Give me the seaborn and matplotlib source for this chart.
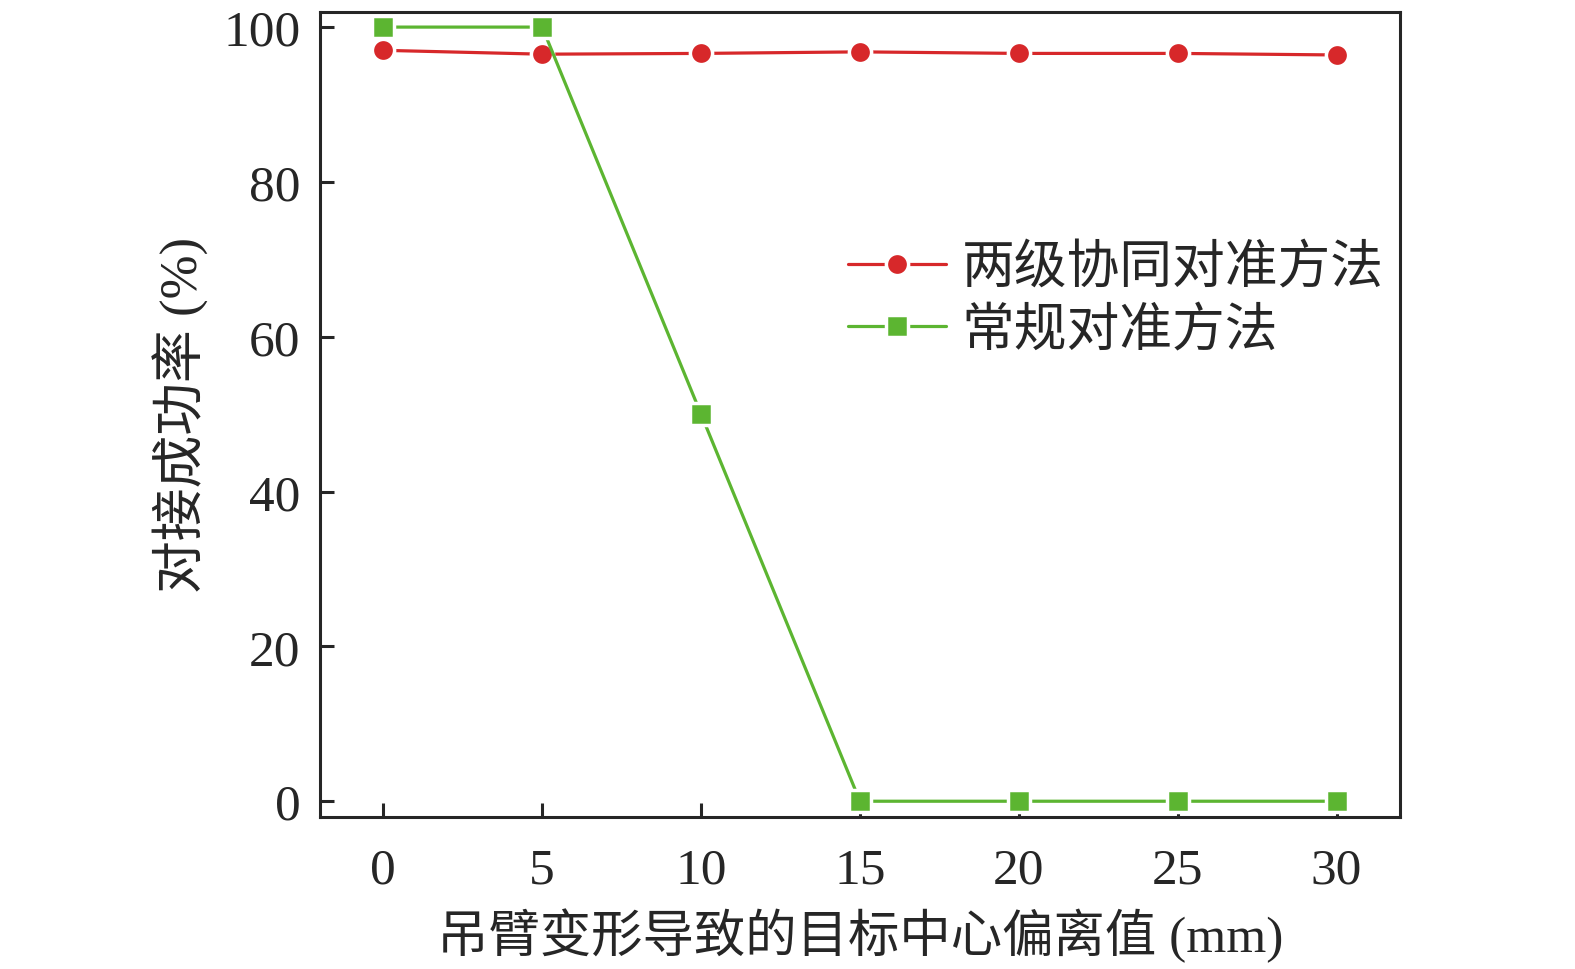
import pandas as pd
import matplotlib
matplotlib.use("Agg")
import matplotlib.pyplot as plt
import seaborn as sns

# Data
offsets = [0, 5, 10, 15, 20, 25, 30]
two_stage = [97.0, 96.5, 96.6, 96.8, 96.6, 96.6, 96.4]
conventional = [100, 100, 50, 0, 0, 0, 0]
series_names = ["两级协同对准方法", "常规对准方法"]
colors = ["#d7282a", "#5cb531"]

df = pd.concat([
    pd.DataFrame({"offset": offsets, "rate": two_stage, "method": series_names[0]}),
    pd.DataFrame({"offset": offsets, "rate": conventional, "method": series_names[1]}),
])

sns.set_style("ticks")
plt.rcParams['font.family'] = ['Liberation Serif', 'Noto Sans CJK SC']
plt.rcParams['axes.linewidth'] = 2.2

fig = plt.figure(figsize=(15.75, 9.7), dpi=100)
ax = fig.add_axes([0.203, 0.157, 0.686, 0.83])

sns.lineplot(data=df, x="offset", y="rate", hue="method", style="method",
             markers=["o", "s"], dashes=False, palette=colors,
             linewidth=2.3, markersize=16, markeredgecolor="white",
             markeredgewidth=2.5, ax=ax)

ax.set_xlim(-2, 32)
ax.set_ylim(-2, 102)
ax.set_xticks(offsets)
ax.set_yticks([0, 20, 40, 60, 80, 100])
ax.tick_params(direction="in", length=10, width=2.2, labelsize=37, pad=14,
               top=False, right=False)
ax.tick_params(axis="x", pad=22)
for lab in ax.get_xticklabels() + ax.get_yticklabels():
    lab.set_family(["Liberation Serif"])

ax.set_xlabel("吊臂变形导致的目标中心偏离值 (mm)", fontsize=37, labelpad=10)
ax.set_ylabel("对接成功率 (%)", fontsize=38, labelpad=10)

handles, labels = ax.get_legend_handles_labels()
leg = ax.legend(handles, labels, loc="upper left", bbox_to_anchor=(0.445, 0.77),
                frameon=False, fontsize=38, handlelength=1.85,
                handletextpad=0.3, labelspacing=0.25)
for h in leg.legend_handles:
    h.set_markeredgecolor("white")

fig.savefig("out.png", dpi=100)
